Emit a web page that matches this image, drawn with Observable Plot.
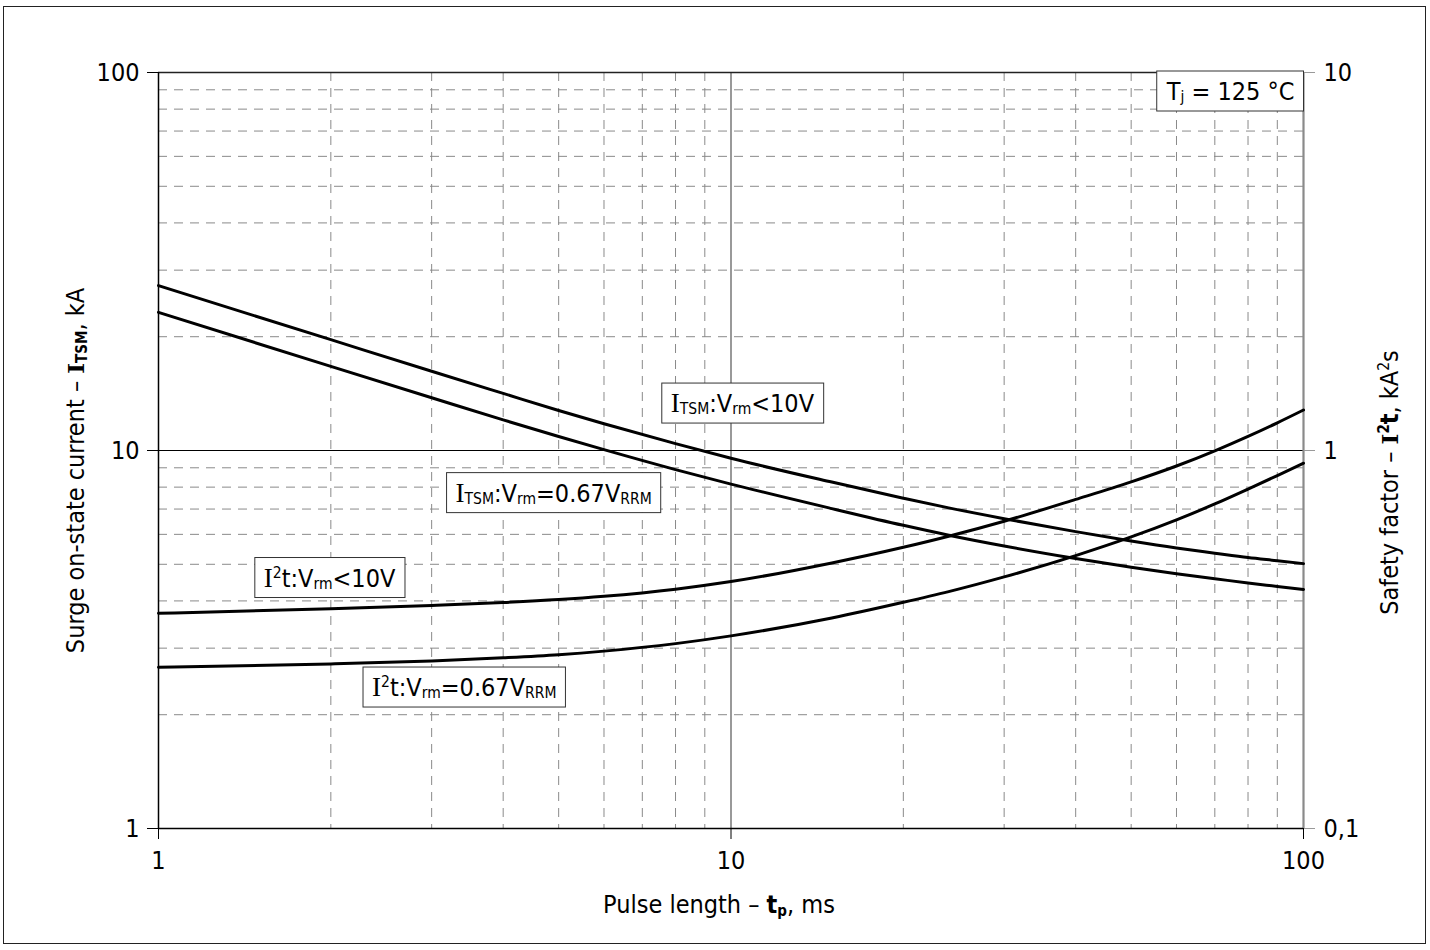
<!DOCTYPE html>
<html><head><meta charset="utf-8">
<script src="https://cdn.jsdelivr.net/npm/d3@7"></script>
<script src="https://cdn.jsdelivr.net/npm/@observablehq/plot@0.6"></script>
<style>
body{margin:0;background:#fff;}
#wrap{position:relative;width:1430px;height:950px;overflow:hidden;}
#border{position:absolute;left:3px;top:6px;width:1421px;height:936px;border:1.5px solid #222;pointer-events:none;}
</style></head><body>
<div id="wrap"><div id="border"></div></div>
<script>
const FONT = '"DejaVu Sans Condensed","DejaVu Sans",sans-serif';
const FS = 25;

// Pulse length, ms
const tp = [1, 2, 3, 4, 5, 6, 8, 10, 15, 20, 24, 30, 40, 50, 60, 70, 80, 90, 100];
// Surge on-state current I_TSM, kA (left axis)
const itsm10V  = [27.3, 19.64, 16.2, 14.16, 12.76, 11.77, 10.43, 9.54, 8.25, 7.48, 7.05, 6.6, 6.1, 5.76, 5.52, 5.35, 5.21, 5.11, 5.02];
const itsm067  = [23.2, 16.69, 13.79, 12.05, 10.89, 10.05, 8.9, 8.15, 7.02, 6.34, 5.97, 5.59, 5.18, 4.91, 4.72, 4.58, 4.46, 4.37, 4.29];
// Safety factor I²t, kA²s (right axis)
const i2t10V   = [0.371, 0.3814, 0.3892, 0.396, 0.4032, 0.4113, 0.4295, 0.45, 0.5042, 0.5546, 0.5933, 0.6501, 0.7423, 0.826, 0.9099, 0.9982, 1.09, 1.184, 1.28];
const i2t067   = [0.267, 0.2725, 0.2775, 0.2828, 0.2882, 0.2946, 0.3084, 0.3233, 0.3606, 0.3966, 0.4233, 0.463, 0.5272, 0.5906, 0.6553, 0.722, 0.7907, 0.8586, 0.9256];

// Ticks and grid
const majorTicks = [1, 10, 100];
const leftTickLabels = ["1", "10", "100"];
const bottomTickLabels = ["1", "10", "100"];
const rightTickLabels = ["0,1", "1", "10"];
const minorTicks = [2, 3, 4, 5, 6, 7, 8, 9, 20, 30, 40, 50, 60, 70, 80, 90];
const rightAxisFactor = 10; // right axis 0.1..10 kA²s maps onto left 1..100 kA

// Texts
const xTitle = "Pulse length – {b:t}{bsub:p}, ms";
const yTitle = "Surge on-state current – {bs:I}{bsub:TSM}, kA";
const y2Title = "Safety factor – {bs:I}{bsup:2}{b:t}, kA{sup:2}s";
const tjLabel = "T{sub:j} = 125 °C";
const curveLabels = ["{s:I}{sub:TSM}:V{sub:rm}<10V", "{s:I}{sub:TSM}:V{sub:rm}=0.67V{sub:RRM}", "{s:I}{sup:2}t:V{sub:rm}<10V", "{s:I}{sup:2}t:V{sub:rm}=0.67V{sub:RRM}"];
const labelTp = [10.47, 4.9, 1.99, 3.42];
const labelVal = [13.27, 7.69, 0.4585, 0.2353];
const labelAxis = ["left", "left", "right", "right"];

const seriesNames = ["ITSM Vrm<10V", "ITSM Vrm=0.67VRRM", "I2t Vrm<10V", "I2t Vrm=0.67VRRM"];
const seriesValues = [itsm10V, itsm067, i2t10V, i2t067];
const seriesAxis = ["left", "left", "right", "right"];

const rows = seriesNames.flatMap((name, s) => tp.map((t, i) => ({
  tp: t, name,
  v: seriesAxis[s] === "right" ? seriesValues[s][i] * rightAxisFactor : seriesValues[s][i]
})));
const labels = curveLabels.map((text, i) => ({
  text, tp: labelTp[i],
  v: labelAxis[i] === "right" ? labelVal[i] * rightAxisFactor : labelVal[i]
}));

const chart = Plot.plot({
  width: 1430, height: 950,
  marginLeft: 158, marginRight: 127, marginTop: 72, marginBottom: 122,
  style: {fontFamily: FONT, fontSize: FS + "px", background: "white", color: "black"},
  x: {type: "log", domain: [1, 100]},
  y: {type: "log", domain: [1, 100]},
  marks: [
    Plot.ruleX(minorTicks, {stroke: "#8a8a8a", strokeWidth: 1, strokeDasharray: "9,7"}),
    Plot.ruleY(minorTicks, {stroke: "#8a8a8a", strokeWidth: 1, strokeDasharray: "9,7"}),
    Plot.ruleX([10], {stroke: "#555", strokeWidth: 1.2}),
    Plot.ruleY([10], {stroke: "#000", strokeWidth: 1.2}),
    Plot.ruleY([100], {stroke: "#222", strokeWidth: 1.5}),
    Plot.ruleX([100], {stroke: "#8a8a8a", strokeWidth: 2.2}),
    Plot.axisX({ticks: majorTicks, tickSize: 11, tickPadding: 12, label: null,
      tickFormat: d => bottomTickLabels[majorTicks.indexOf(d)]}),
    Plot.axisY({anchor: "left", ticks: majorTicks, tickSize: 11, tickPadding: 8, label: null,
      tickFormat: d => leftTickLabels[majorTicks.indexOf(d)]}),
    Plot.axisY({anchor: "right", ticks: majorTicks, tickSize: 11, tickPadding: 9, label: null,
      stroke: "#999", fill: "black",
      tickFormat: d => rightTickLabels[majorTicks.indexOf(d)]}),
    Plot.ruleX([1], {stroke: "#000", strokeWidth: 1.5}),
    Plot.ruleY([1], {stroke: "#000", strokeWidth: 1.5}),
    Plot.line(rows, {x: "tp", y: "v", z: "name", stroke: "black", strokeWidth: 3, curve: "monotone-x"}),
    Plot.text(labels, {x: "tp", y: "v", text: "text", fill: "black"}),
    Plot.text([tjLabel], {frameAnchor: "top-right", text: d => d, dx: -9, dy: 19, lineAnchor: "middle", fill: "black"}),
    Plot.text([xTitle], {frameAnchor: "bottom", text: d => d, dx: -12, dy: 76, lineAnchor: "middle", textAnchor: "middle", fill: "black"}),
    Plot.text([yTitle], {frameAnchor: "left", text: d => d, rotate: -90, dx: -83, dy: 20, lineAnchor: "middle", textAnchor: "middle", fill: "black"}),
    Plot.text([y2Title], {frameAnchor: "right", text: d => d, rotate: -90, dx: 86, dy: 32, lineAnchor: "middle", textAnchor: "middle", fill: "black"})
  ]
});
document.getElementById("wrap").appendChild(chart);

// rich text: sub/superscripts, serif and bold runs
const NS = "http://www.w3.org/2000/svg";
const STYLES = {
  n: {},
  s: {family: '"Liberation Serif","DejaVu Serif",serif', size: 1.08},
  bs: {family: '"DejaVu Serif",serif', weight: "bold", size: 0.92},
  b: {weight: "bold"},
  sub: {size: 0.62, shift: -0.08},
  bsub: {size: 0.6, weight: "bold", shift: -0.12},
  sup: {size: 0.62, shift: 0.36},
  bsup: {size: 0.6, weight: "bold", shift: 0.36}
};
const boxed = new Set([...curveLabels, tjLabel]);
chart.querySelectorAll("text").forEach(t => {
  const s = t.textContent;
  if (!s.includes("{") && !boxed.has(s)) return;
  const re = /\{(\w+):([^}]*)\}/g;
  let last = 0, m; const parts = [];
  while ((m = re.exec(s))) {
    if (m.index > last) parts.push(["n", s.slice(last, m.index)]);
    parts.push([m[1], m[2]]);
    last = re.lastIndex;
  }
  if (last < s.length) parts.push(["n", s.slice(last)]);
  t.textContent = "";
  let cur = 0;
  for (const [st, txt] of parts) {
    const cfg = STYLES[st] || {};
    const ts = document.createElementNS(NS, "tspan");
    ts.textContent = txt;
    if (cfg.family) ts.setAttribute("font-family", cfg.family);
    if (cfg.weight) ts.setAttribute("font-weight", cfg.weight);
    if (cfg.size) ts.setAttribute("font-size", (FS * cfg.size).toFixed(2) + "px");
    const shift = (cfg.shift || 0) * FS;
    if (shift !== cur) ts.setAttribute("dy", (cur - shift).toFixed(2));
    cur = shift;
    t.appendChild(ts);
  }
  if (boxed.has(s)) {
    const bb = t.getBBox();
    const H = 40, padH = 9;
    const rect = document.createElementNS(NS, "rect");
    rect.setAttribute("x", bb.x - padH);
    rect.setAttribute("width", bb.width + 2 * padH);
    rect.setAttribute("y", bb.y + bb.height / 2 - H / 2);
    rect.setAttribute("height", H);
    rect.setAttribute("fill", "white");
    rect.setAttribute("stroke", "#333");
    rect.setAttribute("stroke-width", 1);
    if (t.getAttribute("transform")) rect.setAttribute("transform", t.getAttribute("transform"));
    t.parentNode.insertBefore(rect, t);
  }
});
</script>
</body></html>
